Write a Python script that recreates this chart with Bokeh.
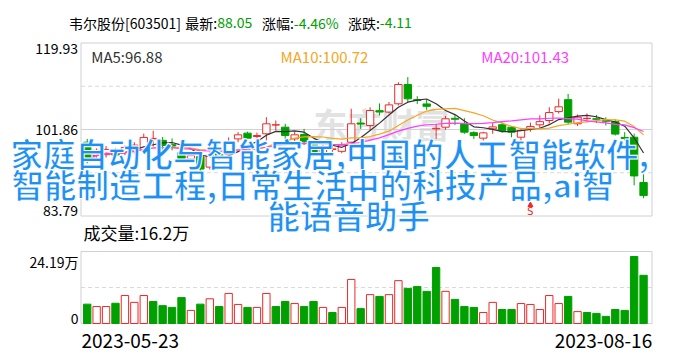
from bokeh.plotting import figure
from bokeh.models import Range1d, Label, ColumnDataSource
from bokeh.embed import file_html
from bokeh.resources import INLINE
from bokeh.core.properties import value
import pandas as pd

# ---------------- data ----------------
stock_title = "韦尔股份[603501]"
latest_price = "88.05"
change_pct = "-4.46%"
change_amt = "-4.11"
date_labels = ["2023-05-23", "2023-08-16"]
price_ticks = [119.93, 101.86, 83.79]
price_tick_labels = ["119.93", "101.86", "83.79"]
vol_ticks = [24.19, 0]
vol_tick_labels = ["24.19万", "0"]
last_volume_label = "成交量:16.2万"
ma_texts = ["MA5:96.88", "MA10:100.72", "MA20:101.43"]
overlay_lines = ["家庭自动化与智能家居,中国的人工智能软件,",
                 "智能制造工程,日常生活中的科技产品,ai智",
                 "能语音助手"]
watermark = "东方财富"
sell_signal_idx = [47]

opens = [99.2, 96.4, 96.6, 97.2, 97.0, 97.3, 97.5, 99.9, 99.6, 98.7,
         97.0, 95.7, 96.2, 94.0, 96.9, 96.6, 99.9, 101.1, 100.4, 100.96,
         102.8, 102.34, 99.9, 100.8, 98.8, 97.0, 97.7, 97.3, 99.2, 103.2,
         102.69, 105.8, 105.5, 107.23, 111.26, 108.1, 107.2, 102.0, 102.34, 104.2,
         103.05, 101.2, 100.05, 102.0, 102.85, 102.34, 100.25, 102.1, 102.84, 103.74,
         105.6, 108.1, 103.05, 104.15, 104.1, 103.7, 103.5, 100.2, 100.25, 90.8]
highs = [99.9, 97.9, 98.4, 98.0, 98.6, 99.2, 101.0, 101.6, 100.3, 100.0,
         97.5, 96.9, 96.6, 97.2, 97.6, 100.2, 101.3, 101.4, 101.2, 104.43,
         103.74, 103.05, 101.5, 102.0, 99.5, 98.8, 98.6, 99.2, 106.2, 104.2,
         106.5, 107.3, 107.6, 111.74, 112.8, 108.8, 108.1, 103.05, 104.7, 104.9,
         104.2, 101.5, 101.4, 103.2, 103.3, 102.6, 102.2, 103.3, 104.8, 106.5,
         108.3, 109.3, 105.0, 105.2, 104.9, 104.4, 104.0, 101.3, 101.0, 92.5]
lows = [94.8, 95.9, 96.0, 95.8, 96.5, 96.8, 97.2, 98.3, 97.5, 97.5,
        95.3, 95.2, 93.0, 93.5, 95.9, 96.2, 99.2, 99.6, 99.6, 99.56,
        101.65, 99.56, 99.2, 98.6, 96.2, 96.5, 97.2, 96.9, 98.2, 102.0,
        101.65, 104.8, 105.2, 106.87, 107.56, 107.2, 105.97, 99.92, 101.8, 102.8,
        100.96, 99.9, 99.56, 100.96, 101.2, 100.25, 99.5, 101.4, 102.0, 103.1,
        105.2, 102.9, 102.6, 103.4, 103.2, 102.7, 100.6, 99.6, 90.2, 87.5]
closes = [95.4, 97.5, 97.7, 96.5, 98.1, 98.6, 100.2, 100.0, 98.5, 98.4,
          95.8, 96.4, 93.6, 96.6, 96.3, 98.9, 100.75, 100.05, 100.6, 103.05,
          102.85, 100.6, 100.75, 99.3, 96.8, 98.2, 97.8, 98.6, 103.05, 103.0,
          105.83, 105.5, 107.0, 111.26, 108.27, 107.92, 106.7, 102.12, 104.1, 104.0,
          101.3, 100.6, 101.15, 102.4, 101.65, 101.3, 101.65, 102.5, 103.5, 105.4,
          106.6, 103.4, 104.43, 104.2, 104.0, 103.6, 100.9, 100.0, 92.16, 88.05]
volumes = [6.5, 5.7, 5.7, 6.8, 9.4, 7.1, 9.4, 7.4, 6.0, 5.4,
           8.7, 4.4, 6.5, 8.3, 5.7, 10.1, 6.4, 5.4, 5.4, 10.1,
           5.7, 7.4, 6.7, 5.7, 7.4, 5.4, 3.7, 5.4, 14.8, 5.0,
           9.7, 9.1, 9.7, 14.4, 11.8, 12.4, 10.8, 18.8, 10.8, 8.1,
           5.7, 5.4, 3.7, 7.1, 4.7, 4.7, 6.7, 6.4, 4.7, 9.4,
           6.7, 9.1, 4.0, 3.7, 3.4, 2.4, 4.7, 4.4, 22.5, 16.2]
vol_up = "GRRGRRRGGG" "GRGRGRRGRR" "GGRGGRGRRG" "RGRRGGGGRG" "GGRRGGRRRR" "RGRGGGGGGG"

# ---------------- geometry (screen px) ----------------
W, H = 688, 360
X0, DX = 86.7, 9.43            # first bar centre, bar spacing
P_MAX, P_MIN = price_ticks[0], price_ticks[-1]
PY_TOP, PY_BOT = 42.5, 215.5
PPP = (P_MAX - P_MIN) / (PY_BOT - PY_TOP)
V_MAX = vol_ticks[0]
VY_TOP, VY_BOT = 251.0, 323.0
VPP = V_MAX / (VY_BOT - VY_TOP)
FRAME_L, FRAME_R = 80.5, 651.5


def xs(sx):
    return (sx - X0) / DX


def ps(sy):
    return P_MAX - (sy - PY_TOP) * PPP


RED = "#f02828"
GREEN = "#00a000"
GRID = "#d9d9d9"
FRAME = "#d0d0d6"
FONT = "Noto Sans CJK SC"

p = figure(width=W, height=H, output_backend="svg", toolbar_location=None,
           x_axis_location=None, y_axis_location=None, title=None,
           min_border=0, outline_line_color=None,
           x_range=Range1d(xs(0), xs(W)),
           y_range=Range1d(ps(H), ps(0)))
p.extra_y_ranges = {"vol": Range1d(-(H - VY_BOT) * VPP, V_MAX + VY_TOP * VPP)}
p.xgrid.visible = False
p.ygrid.visible = False
p.background_fill_color = "white"
p.border_fill_color = "white"

# watermark
p.text(x=[xs(313)], y=[ps(123)], text=[watermark], text_font=value(FONT),
       text_font_size=value("34px"), text_font_style="bold", text_color="#e2e2e2",
       text_baseline="middle", text_align="left")

# frames and grid
xl, xr = xs(FRAME_L), xs(FRAME_R)
p.quad(left=[xl], right=[xr], bottom=[P_MIN], top=[P_MAX], fill_color=None,
       line_color=FRAME, line_width=1)
p.quad(left=[xl], right=[xr], bottom=[0], top=[V_MAX], fill_color=None,
       line_color=FRAME, line_width=1, y_range_name="vol")
mid = price_ticks[1]
p.segment(x0=[xl], x1=[xr], y0=[mid], y1=[mid], line_color=FRAME, line_width=1)
q1, q3 = (P_MAX + mid) / 2, (mid + P_MIN) / 2
p.segment(x0=[xl, xl], x1=[xr, xr], y0=[q1, q3], y1=[q1, q3], line_color=GRID,
          line_width=1, line_dash="4 3")
p.segment(x0=[xl], x1=[xr], y0=[V_MAX / 2], y1=[V_MAX / 2], line_color=GRID,
          line_width=1, line_dash="4 3", y_range_name="vol")

# candles
n = len(closes)
df = pd.DataFrame({"x": list(range(n)), "o": opens, "h": highs, "l": lows, "c": closes,
                   "v": volumes})
df["top"] = df[["o", "c"]].max(axis=1)
df["bot"] = df[["o", "c"]].min(axis=1)
df["up"] = df["c"] >= df["o"]
df["col"] = [RED if u else GREEN for u in df["up"]]
df["fill"] = ["white" if u else GREEN for u in df["up"]]
df["vcol"] = [RED if f == "R" else GREEN for f in vol_up]
df["vfill"] = ["white" if f == "R" else GREEN for f in vol_up]
df["left"] = df["x"] - 0.39
df["right"] = df["x"] + 0.39
df["zero"] = 0.0
src = ColumnDataSource(df)

p.segment(x0="x", x1="x", y0="h", y1="top", line_color="col", line_width=1, source=src)
p.segment(x0="x", x1="x", y0="bot", y1="l", line_color="col", line_width=1, source=src)
p.quad(left="left", right="right", top="top", bottom="bot", fill_color="fill",
       line_color="col", line_width=1, source=src)

# moving averages
ma_cols = ["#333333", "#f5a623", "#ff3cff"]
for w, c in zip([5, 10, 20], ma_cols):
    ma = pd.Series(closes).rolling(w, min_periods=1).mean()
    p.line(x=list(range(n)), y=list(ma), line_color=c, line_width=1.2)

# volume bars
p.quad(left="left", right="right", top="v", bottom="zero", fill_color="vfill",
       line_color="vcol", line_width=1, source=src, y_range_name="vol")

# sell signal
for i in sell_signal_idx:
    p.scatter(x=[i], y=[ps(204.5)], marker="triangle", size=5, color=RED)
    p.text(x=[i], y=[ps(211)], text=["S"], text_font=value("DejaVu Sans Mono"),
           text_font_size=value("11px"), text_color=RED, text_align="center",
           text_baseline="middle")


def lab(text, sx, sy, color="black", size="15px", align="left", baseline="middle",
        y=None, yr="default", style="normal"):
    p.add_layout(Label(x=xs(sx), y=ps(sy) if y is None else y, text=text,
                       text_font=FONT, text_font_size=size, text_color=color,
                       text_align=align, text_baseline=baseline,
                       text_font_style=style, y_range_name=yr))


# title line
TY = 22
TS = "14px"
lab(stock_title, 180.5, TY, size=TS, align="right")
lab("最新:", 216.7, TY, size=TS, align="right")
lab(latest_price, 216.7, TY, size=TS, color=GREEN)
lab("涨幅:", 293.3, TY, size=TS, align="right")
lab(change_pct, 293.3, TY, size=TS, color=GREEN)
lab("涨跌:", 379.3, TY, size=TS, align="right")
lab(change_amt, 379.3, TY, size=TS, color=GREEN)

# MA labels
for t, sx, c in zip(ma_texts, [90.7, 280, 480.7], ma_cols):
    lab(t, sx, 56, color=c, size="15px")

# price axis labels
for v, t, b in zip(price_ticks, price_tick_labels, ["top", "middle", "bottom"]):
    lab(t, 77.5, 0, size="14px", align="right", baseline=b, y=v)

# volume axis labels
for v, t, b in zip(vol_ticks, vol_tick_labels, ["top", "bottom"]):
    lab(t, 78, 0, size="14px", align="right", baseline=b, y=v, yr="vol")

lab(last_volume_label, 83, 232, size="17px")

# dates
lab(date_labels[0], 81, 340, size="19px")
lab(date_labels[1], 651.7, 340, size="19px", align="right")

# overlay text
for t, sx, sy in zip(overlay_lines, [10, 11, 267], [152, 183, 214]):
    p.text(x=[xs(sx)], y=[ps(sy)], text=[t], text_font=value(FONT),
           text_font_size=value("32.5px"), text_font_style="bold",
           text_color="#1f8ff2", text_outline_color="white",
           text_align="left", text_baseline="middle")

open("out.html", "w").write(file_html(p, INLINE))
